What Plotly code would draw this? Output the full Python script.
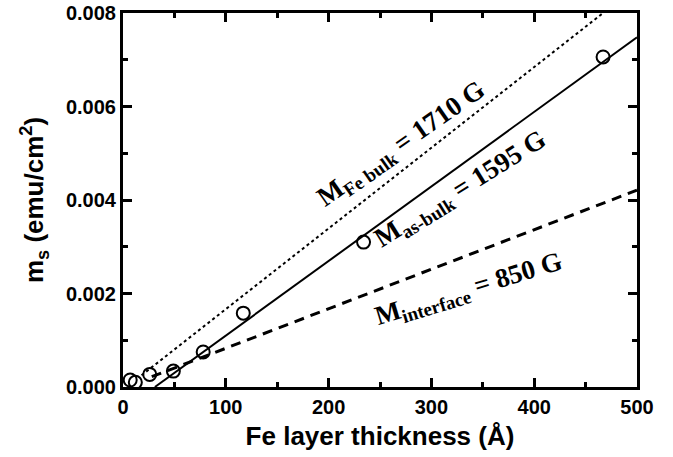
import plotly.graph_objects as go

# Data points (Fe layer thickness in Å, m_s in emu/cm^2)
thickness = [7, 12, 26, 49, 78, 117, 234, 467]
ms = [0.00015, 0.0001, 0.00027, 0.00034, 0.00075, 0.00158, 0.0031, 0.00706]

# Fit lines (endpoints)
bulk_x = [18, 467]
bulk_y = [0.00025, 0.008]
asbulk_x = [31, 500]
asbulk_y = [0.0, 0.00748]
interface_x = [28, 500]
interface_y = [0.00022, 0.00421]

x_ticks = [0, 100, 200, 300, 400, 500]
x_minor = [50, 150, 250, 350, 450]
y_ticks = [0.000, 0.002, 0.004, 0.006, 0.008]
y_minor = [0.001, 0.003, 0.005, 0.007]
y_tick_labels = ["0.000", "0.002", "0.004", "0.006", "0.008"]

fig = go.Figure()
fig.add_trace(go.Scatter(x=bulk_x, y=bulk_y, mode="lines",
                         line=dict(color="black", width=2, dash="dot"), showlegend=False))
fig.add_trace(go.Scatter(x=asbulk_x, y=asbulk_y, mode="lines",
                         line=dict(color="black", width=2), showlegend=False))
fig.add_trace(go.Scatter(x=interface_x, y=interface_y, mode="lines",
                         line=dict(color="black", width=3, dash="10px,7px"), showlegend=False))
fig.add_trace(go.Scatter(x=thickness, y=ms, mode="markers",
                         marker=dict(symbol="circle-open", size=13, color="black",
                                     line=dict(width=2, color="black")),
                         showlegend=False))

serif = "Liberation Serif, Times New Roman, serif"
ann_font = dict(family=serif, size=27, color="black", weight="bold")
fig.add_annotation(x=271, y=0.00518, xref="x", yref="y", showarrow=False,
                   text="M<sub>Fe bulk</sub> = 1710 G", textangle=-35, font=ann_font)
fig.add_annotation(x=329, y=0.00421, xref="x", yref="y", showarrow=False,
                   text="M<sub>as-bulk</sub> = 1595 G", textangle=-32, font=ann_font)
fig.add_annotation(x=337, y=0.00207, xref="x", yref="y", showarrow=False,
                   text="M<sub>interface</sub> = 850 G", textangle=-17, font=ann_font)

sans = "Liberation Sans, Arial, sans-serif"
axis_common = dict(
    showline=True, linewidth=3, linecolor="black", mirror="ticks",
    ticks="inside", ticklen=9, tickwidth=3, tickcolor="black",
    showgrid=False, zeroline=False,
    tickfont=dict(family=sans, size=20, color="black", weight="bold"),
)
fig.update_xaxes(range=[0, 500], tickvals=x_ticks,
                 minor=dict(ticks="inside", ticklen=5, tickwidth=3, tickvals=x_minor, tickcolor="black"),
                 title=dict(text="Fe layer thickness (Å)", font=dict(family=sans, size=26, color="black", weight="bold"),
                            standoff=10),
                 **axis_common)
fig.update_yaxes(range=[0, 0.008], tickvals=y_ticks, ticktext=y_tick_labels,
                 minor=dict(ticks="inside", ticklen=5, tickwidth=3, tickvals=y_minor, tickcolor="black"),
                 title=dict(text="m<sub>s</sub> (emu/cm<sup>2</sup>)", font=dict(family=sans, size=26, color="black", weight="bold"),
                            standoff=15),
                 **axis_common)

fig.update_layout(
    width=673, height=457,
    margin=dict(l=123, r=36, t=13, b=70, autoexpand=False),
    paper_bgcolor="white", plot_bgcolor="white",
)
fig.write_html("out.html", config={"displayModeBar": False},
               post_script="document.body.style.margin='0';document.body.style.overflow='hidden';")
